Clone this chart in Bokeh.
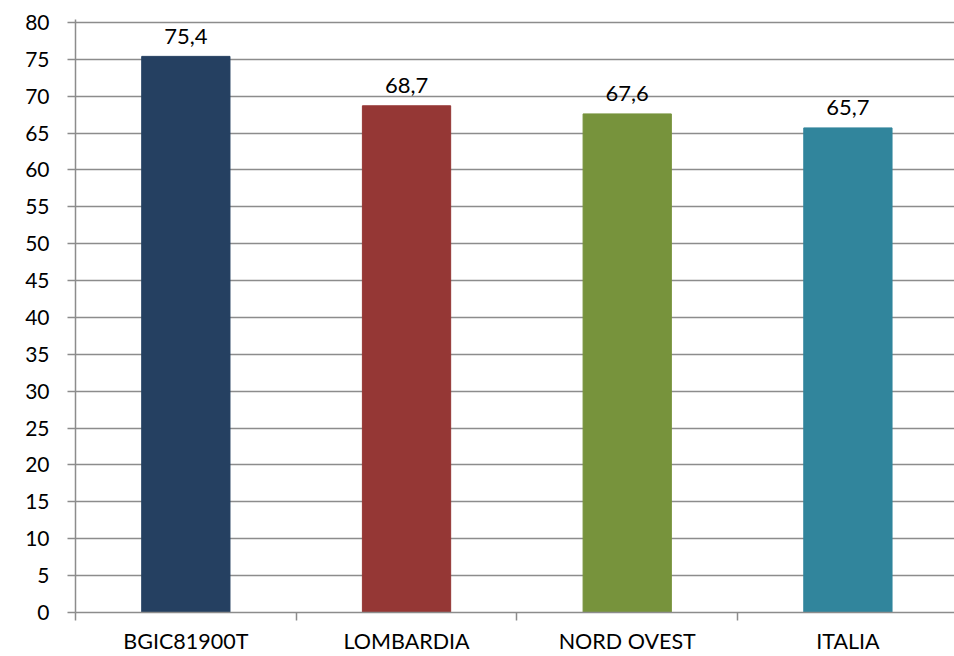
from bokeh.plotting import figure
from bokeh.models import ColumnDataSource, FixedTicker, Range1d
from bokeh.core.properties import value
from bokeh.embed import file_html
from bokeh.resources import INLINE

categories = ["BGIC81900T", "LOMBARDIA", "NORD OVEST", "ITALIA"]
values = [75.4, 68.7, 67.6, 65.7]
colors = ["#254061", "#953735", "#77933C", "#31859C"]
y_ticks = list(range(0, 81, 5))

n = len(categories)
xs = [i + 0.5 for i in range(n)]
labels = [f"{v:.1f}".replace(".", ",") for v in values]

source = ColumnDataSource(dict(x=xs, top=values, color=colors, label=labels, cat=categories))

FONT = "Lato"
GRID = "#8c8c8c"

p = figure(width=954, height=656, output_backend="svg", toolbar_location=None,
           x_range=Range1d(0, n - 0.017), y_range=Range1d(0, 80.4),
           min_border_left=75, min_border_right=0, min_border_top=19, min_border_bottom=40)
p.outline_line_color = None
p.background_fill_color = "white"
p.border_fill_color = "white"

p.vbar(x="x", top="top", width=0.4, color="color", source=source)
p.text(x="x", y="top", text="label", source=source, text_align="center",
       text_baseline="alphabetic", y_offset=-20, text_font=value(FONT),
       text_font_size=value("22px"), text_color="black")

# x axis
p.xaxis.ticker = FixedTicker(ticks=xs, minor_ticks=list(range(n + 1)))
p.xaxis.major_label_overrides = {x: c for x, c in zip(xs, categories)}
p.xaxis.major_tick_out = 0
p.xaxis.major_tick_in = 0
p.xaxis.minor_tick_out = 8
p.xaxis.minor_tick_in = 0
p.xaxis.minor_tick_line_color = GRID
p.xaxis.minor_tick_line_width = 1.5
p.xaxis.axis_line_color = GRID
p.xaxis.axis_line_width = 1.5
p.xaxis.major_label_standoff = 7
p.xaxis.major_label_text_font = FONT
p.xaxis.major_label_text_font_size = "21.5px"
p.xaxis.major_label_text_color = "black"

# y axis
p.yaxis.ticker = FixedTicker(ticks=y_ticks)
p.yaxis.major_tick_out = 8
p.yaxis.major_tick_in = 0
p.yaxis.minor_tick_line_color = None
p.yaxis.major_tick_line_color = GRID
p.yaxis.major_tick_line_width = 1.5
p.yaxis.axis_line_color = GRID
p.yaxis.axis_line_width = 1.5
p.yaxis.major_label_standoff = 18
p.yaxis.major_label_text_font = FONT
p.yaxis.major_label_text_font_size = "21px"
p.yaxis.major_label_text_color = "black"

p.xgrid.grid_line_color = None
p.ygrid.ticker = FixedTicker(ticks=y_ticks)
p.ygrid.grid_line_color = GRID
p.ygrid.grid_line_width = 1.5

open("out.html", "w").write(file_html(p, INLINE))
